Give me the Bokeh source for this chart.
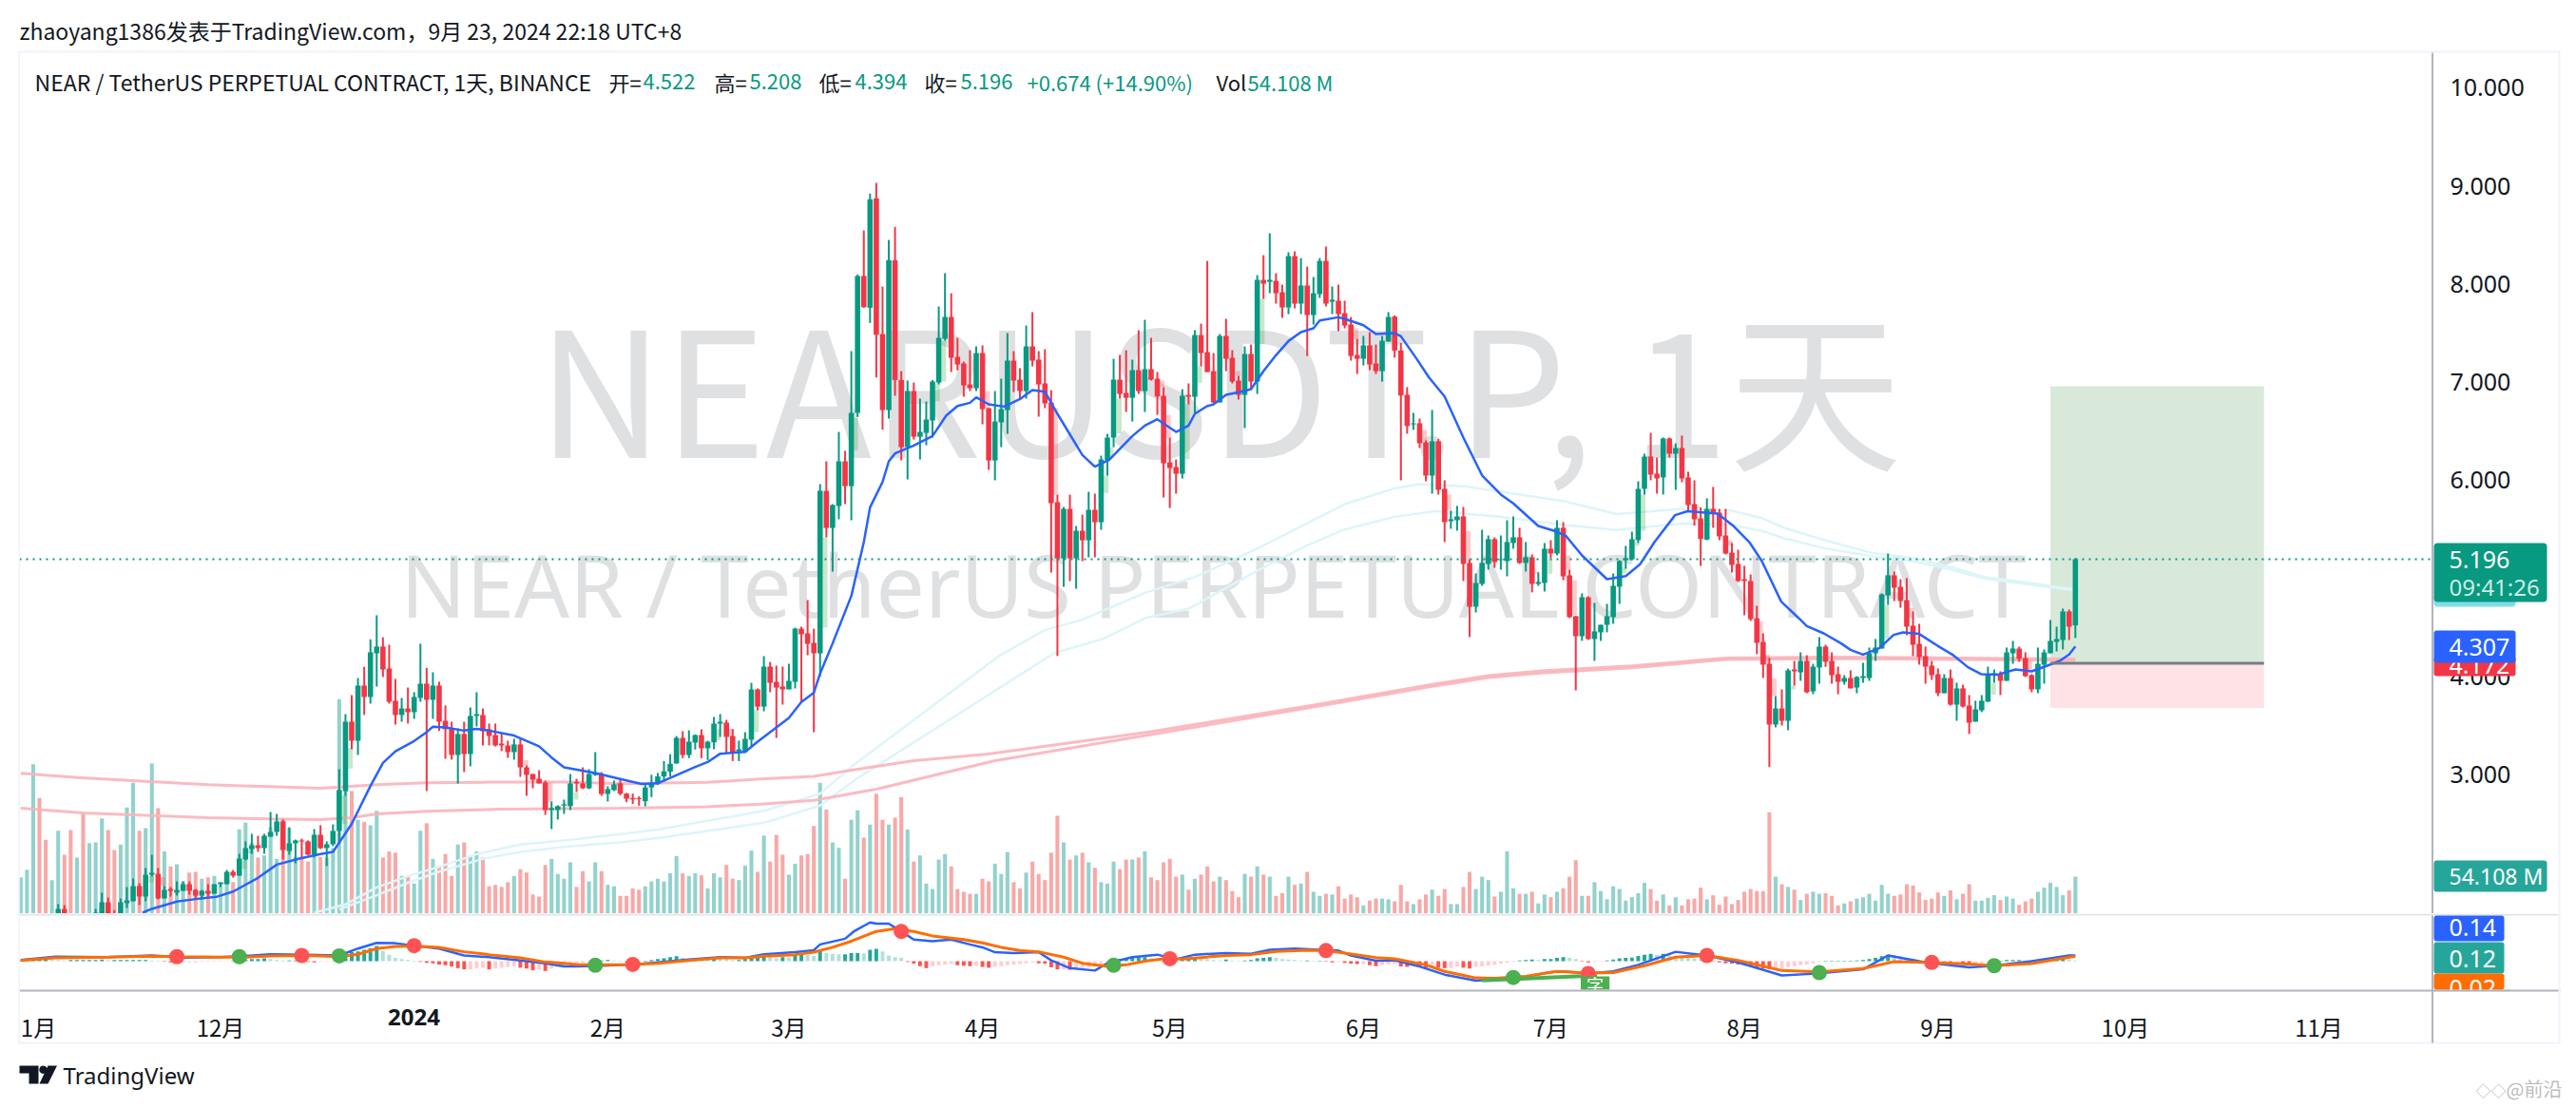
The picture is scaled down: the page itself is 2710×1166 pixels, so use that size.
import numpy as np
from bokeh.core.properties import value
from bokeh.embed import file_html
from bokeh.resources import INLINE
from bokeh.layouts import column
from bokeh.models import (ColumnDataSource, Range1d, FixedTicker, Label, BoxAnnotation, PolyAnnotation)
from bokeh.plotting import figure

# ---------------- chart values ----------------
opens = [
 1.45,1.48,1.50,1.55,1.48,1.46,1.55,1.634,1.56,1.52,
 1.55,1.52,1.56,1.58,1.702,1.589,1.59,1.692,1.711,1.866,
 1.76,1.982,1.992,1.74,1.837,1.798,1.818,1.886,1.827,1.769,
 1.818,1.789,1.886,1.886,2.011,1.973,2.137,2.244,2.282,2.253,
 2.369,2.418,2.525,2.224,2.302,2.331,2.321,2.186,2.389,2.253,
 2.292,2.428,2.834,3.541,3.347,3.909,3.793,4.238,4.306,4.083,
 3.754,3.609,3.676,3.638,3.783,3.928,3.764,3.909,3.55,3.473,
 3.202,3.415,3.212,3.599,3.609,3.464,3.405,3.318,3.299,3.231,
 3.309,3.076,3.008,2.96,2.921,2.641,2.641,2.686,2.68,2.928,
 2.912,2.863,2.999,3.008,2.805,2.844,2.913,2.808,2.763,2.763,
 2.731,2.871,2.913,2.983,3.032,3.116,3.376,3.202,3.328,3.405,
 3.27,3.331,3.521,3.531,3.395,3.24,3.234,3.357,3.87,3.695,
 4.102,3.947,3.899,3.87,3.947,4.489,4.441,4.344,4.238,5.893,
 5.515,5.738,6.193,5.941,6.687,8.081,7.758,8.871,7.49,6.716,
 8.242,7.022,6.338,6.909,6.444,6.483,6.609,6.996,7.442,7.664,
 7.258,7.19,6.977,6.938,7.296,6.735,6.202,6.59,6.715,7.219,
 7.025,6.909,7.364,7.229,6.987,6.793,5.777,5.205,5.709,5.205,
 5.486,5.389,5.699,5.573,6.202,6.435,7.025,6.89,6.841,7.122,
 6.909,7.132,7.035,6.861,6.183,6.135,6.067,6.87,6.851,7.48,
 7.306,7.112,6.793,7.471,7.248,7.016,6.87,7.287,7.006,8.042,
 8.022,8.032,7.916,7.761,8.284,7.8,7.984,7.684,7.897,8.235,
 7.819,7.829,7.703,7.587,7.277,7.238,7.374,7.19,7.112,7.413,
 7.668,7.322,6.871,6.57,6.581,6.387,6.048,6.397,5.913,5.584,
 5.593,5.632,5.158,4.712,4.945,5.148,5.4,5.187,5.177,5.361,
 5.419,5.158,5.216,4.945,4.954,5.303,5.254,5.516,5.032,4.616,
 4.412,4.809,4.383,4.451,4.528,4.606,4.916,5.187,5.196,5.39,
 5.913,6.242,6.068,6.029,6.426,6.271,6.329,6.029,5.758,5.612,
 5.396,5.709,5.671,5.438,5.264,5.148,4.993,4.974,4.596,4.354,
 4.131,3.512,3.676,3.55,4.073,4.044,4.16,3.85,4.093,4.306,
 4.16,4.025,3.947,3.986,3.889,3.986,3.986,4.238,4.286,4.828,
 5.032,4.915,4.78,4.519,4.335,4.209,4.112,4.025,3.831,3.986,
 3.715,3.88,3.705,3.541,3.657,3.744,4.025,4.025,3.957,4.238,
 4.286,4.189,4.015,3.87,4.122,4.238,4.354,4.373,4.664,4.522]
highs = [
 1.5,1.52,1.56,1.57,1.5,1.52,1.682,1.672,1.58,1.56,
 1.58,1.56,1.634,1.798,1.75,1.621,1.74,1.856,1.944,1.895,
 2.05,2.186,2.05,1.866,1.856,1.915,1.915,1.915,1.837,1.827,
 1.886,1.886,1.905,2.031,2.031,2.195,2.321,2.399,2.379,2.399,
 2.621,2.602,2.544,2.466,2.34,2.35,2.331,2.447,2.486,2.321,
 2.495,3.057,3.618,3.812,3.986,4.1,4.38,4.625,4.4,4.325,
 3.977,3.783,3.889,3.841,4.335,4.09,4.044,3.948,3.706,3.541,
 3.473,3.541,3.686,3.841,3.676,3.522,3.522,3.425,3.347,3.367,
 3.376,3.096,3.008,3.047,2.941,2.728,2.689,2.747,3.008,2.96,
 3.076,3.057,3.231,3.028,2.883,2.941,2.948,2.815,2.808,2.78,
 2.913,3.0,3.018,3.14,3.21,3.395,3.444,3.453,3.411,3.463,
 3.347,3.589,3.618,3.56,3.466,3.347,3.434,3.937,3.879,4.208,
 4.15,4.112,4.102,4.131,4.499,4.509,4.78,4.489,5.961,6.193,
 5.757,6.493,6.3,7.316,8.097,8.545,8.92,9.03,7.974,8.449,
 8.581,7.113,7.016,6.996,6.832,6.803,7.02,7.771,8.11,7.906,
 7.451,7.209,7.325,7.364,7.374,6.735,6.909,7.035,7.5,7.316,
 7.141,7.577,7.713,7.316,7.335,6.919,5.854,5.728,5.854,5.534,
 5.65,5.883,5.864,6.251,6.473,7.238,7.277,7.325,7.229,7.529,
 7.635,7.451,7.103,6.948,6.435,6.212,6.928,6.987,7.529,7.596,
 8.235,7.296,7.49,7.645,7.325,7.064,7.364,7.383,8.09,8.293,
 8.516,8.11,7.993,8.323,8.332,8.264,8.177,8.071,8.264,8.381,
 7.974,7.993,7.829,7.664,7.441,7.471,7.509,7.383,7.471,7.713,
 7.68,7.4,6.95,6.687,6.629,6.407,6.716,6.42,6.0,5.69,
 5.739,5.729,5.196,5.051,5.496,5.438,5.419,5.438,5.593,5.632,
 5.516,5.371,5.245,5.061,5.361,5.39,5.593,5.574,5.09,4.616,
 4.848,4.819,4.751,4.528,4.741,5.051,5.187,5.332,5.477,5.99,
 6.271,6.484,6.232,6.436,6.436,6.377,6.455,6.087,6.0,5.725,
 5.816,5.932,5.709,5.709,5.361,5.293,5.128,5.041,4.722,4.441,
 4.19,3.802,3.87,4.083,4.16,4.247,4.218,4.131,4.402,4.325,
 4.247,4.102,4.015,4.064,4.005,4.141,4.296,4.383,4.848,5.254,
 5.07,4.993,5.003,4.664,4.538,4.306,4.16,4.083,4.025,4.073,
 3.938,3.918,3.812,3.754,3.812,4.102,4.073,4.054,4.296,4.364,
 4.306,4.247,4.025,4.296,4.277,4.577,4.509,4.693,4.683,5.208]
lows = [
 1.42,1.45,1.48,1.46,1.44,1.45,1.54,1.53,1.5,1.5,
 1.5,1.5,1.53,1.56,1.55,1.54,1.56,1.643,1.711,1.672,
 1.711,1.963,1.731,1.74,1.76,1.769,1.818,1.779,1.731,1.731,
 1.756,1.789,1.856,1.886,1.953,1.973,2.128,2.195,2.215,2.195,
 2.369,2.379,2.137,2.186,2.099,2.157,2.182,2.157,2.244,2.07,
 2.273,2.318,2.786,3.26,3.202,3.609,3.725,3.899,3.996,3.725,
 3.512,3.541,3.522,3.57,3.744,2.834,3.57,3.447,3.163,3.154,
 2.912,3.028,3.086,3.493,3.299,3.299,3.289,3.241,3.173,3.154,
 2.979,2.786,2.863,2.912,2.592,2.447,2.544,2.602,2.641,2.825,
 2.854,2.854,2.989,2.786,2.728,2.834,2.791,2.721,2.703,2.686,
 2.679,2.773,2.896,2.93,2.983,3.112,3.17,3.17,3.257,3.17,
 3.15,3.26,3.386,3.208,3.14,3.14,3.224,3.289,3.657,3.647,
 3.841,3.376,3.715,3.87,3.879,3.744,4.218,3.434,4.005,5.419,
 5.07,5.603,5.757,5.593,6.645,7.758,7.603,7.048,6.516,6.629,
 6.861,6.203,6.009,6.415,6.212,6.357,6.435,6.977,7.422,7.103,
 7.122,6.851,6.909,6.909,6.57,6.106,6.0,6.338,6.473,6.899,
 6.828,6.832,7.161,6.648,6.735,5.06,4.21,4.915,4.973,4.895,
 5.176,5.215,5.215,5.496,6.047,6.338,6.832,6.696,6.599,6.88,
 6.696,7.016,6.667,5.825,5.718,5.864,6.018,6.773,6.677,7.161,
 7.103,6.773,6.793,7.112,6.987,6.822,6.532,6.919,6.88,7.848,
 7.906,7.8,7.655,7.693,7.751,7.693,7.267,7.587,7.858,7.771,
 7.693,7.519,7.548,7.219,7.083,7.171,7.122,7.083,7.006,7.413,
 7.25,6.0,6.474,6.513,6.329,5.99,5.864,5.855,5.371,5.506,
 5.487,4.974,4.403,4.654,4.925,5.09,5.109,5.09,5.022,5.303,
 5.148,5.071,4.858,4.925,4.867,5.206,5.235,4.983,4.596,3.86,
 4.364,4.374,4.161,4.364,4.451,4.538,4.741,5.1,5.187,5.361,
 5.855,6.0,5.864,5.855,6.232,5.903,5.981,5.69,5.538,5.128,
 5.39,5.516,5.39,5.245,5.061,4.964,4.625,4.567,4.228,3.986,
 3.079,3.483,3.502,3.454,3.909,3.957,3.831,3.821,3.928,4.099,
 3.928,3.821,3.918,3.88,3.831,3.938,3.957,4.16,4.286,4.731,
 4.77,4.702,4.422,4.209,4.122,3.928,3.967,3.802,3.831,3.705,
 3.55,3.686,3.415,3.541,3.638,3.744,3.938,3.812,3.957,4.131,
 4.151,3.996,3.841,3.831,3.928,4.238,4.257,4.277,4.373,4.394]
closes = [
 1.48,1.5,1.55,1.48,1.46,1.5,1.634,1.563,1.52,1.55,
 1.52,1.55,1.595,1.702,1.58,1.57,1.702,1.721,1.866,1.76,
 1.982,2.002,1.74,1.827,1.818,1.827,1.886,1.818,1.769,1.818,
 1.789,1.886,1.905,2.011,1.973,2.147,2.253,2.282,2.253,2.379,
 2.418,2.525,2.234,2.302,2.331,2.321,2.186,2.389,2.253,2.292,
 2.428,2.844,3.541,3.347,3.909,3.793,4.248,4.306,4.073,3.744,
 3.609,3.676,3.638,3.793,3.928,3.764,3.909,3.541,3.464,3.202,
 3.415,3.212,3.599,3.618,3.444,3.396,3.299,3.299,3.231,3.309,
 3.076,2.999,2.95,2.912,2.641,2.66,2.68,2.699,2.912,2.912,
 2.863,3.008,3.018,2.805,2.854,2.902,2.808,2.756,2.749,2.752,
 2.871,2.913,2.983,3.035,3.112,3.376,3.202,3.337,3.405,3.27,
 3.337,3.521,3.54,3.386,3.234,3.26,3.366,3.87,3.695,4.102,
 3.937,3.889,3.87,3.957,4.489,4.431,4.334,4.238,5.893,5.515,
 5.748,6.193,5.941,6.687,8.081,7.764,8.862,7.484,6.716,8.242,
 7.022,6.338,6.909,6.444,6.493,6.619,7.006,7.451,7.664,7.248,
 7.18,6.967,6.938,7.296,6.725,6.202,6.599,6.725,7.219,7.016,
 6.909,7.364,7.219,6.977,6.783,5.767,5.205,5.709,5.205,5.486,
 5.389,5.699,5.573,6.212,6.435,7.025,6.88,6.841,7.122,6.909,
 7.132,7.025,6.854,6.173,6.125,6.067,6.861,6.851,7.48,7.296,
 7.103,6.793,7.471,7.238,7.006,6.87,7.287,7.006,8.042,8.003,
 8.042,7.906,7.761,8.284,7.8,7.984,7.684,7.906,8.235,7.8,
 7.839,7.693,7.577,7.267,7.238,7.374,7.18,7.112,7.422,7.664,
 7.322,6.864,6.554,6.58,6.377,6.048,6.397,5.903,5.574,5.603,
 5.632,5.148,4.712,4.954,5.158,5.4,5.167,5.196,5.371,5.419,
 5.158,5.216,4.945,4.964,5.303,5.254,5.516,5.022,4.606,4.412,
 4.809,4.383,4.461,4.528,4.616,4.925,5.177,5.206,5.4,5.913,
 6.242,6.058,6.019,6.426,6.271,6.329,6.019,5.748,5.603,5.403,
 5.709,5.661,5.429,5.254,5.138,4.974,4.974,4.586,4.344,4.122,
 3.512,3.676,3.55,4.064,4.054,4.16,3.841,4.102,4.306,4.151,
 4.015,3.947,3.986,3.88,3.996,4.005,4.238,4.296,4.838,5.032,
 4.906,4.77,4.509,4.325,4.199,4.102,4.015,3.831,3.986,3.715,
 3.88,3.696,3.531,3.667,3.754,4.025,4.035,3.957,4.247,4.286,
 4.18,4.005,3.87,4.131,4.247,4.364,4.383,4.664,4.509,5.196]
volumes = [
 53,64,218,169,108,49,121,86,122,82,
 147,103,104,139,122,93,101,155,191,121,
 125,219,154,91,69,72,47,60,61,51,
 53,55,42,46,46,123,133,103,82,85,
 126,80,139,125,83,83,76,83,83,82,
 96,313,240,179,137,134,129,150,82,91,
 89,55,54,44,121,132,80,69,87,55,
 101,104,85,91,82,40,42,39,46,55,
 65,60,28,25,71,80,58,51,75,39,
 62,47,75,62,42,40,26,26,37,35,
 40,47,51,47,59,84,59,55,59,56,
 37,59,53,71,51,49,70,92,61,114,
 76,115,86,57,73,85,87,128,191,152,
 104,96,51,137,151,111,130,175,137,130,
 140,170,123,76,85,44,36,79,87,69,
 36,32,29,29,51,47,73,58,90,46,
 37,60,76,58,49,89,143,104,79,85,
 89,75,67,46,44,76,65,79,79,82,
 91,53,49,75,80,54,57,35,51,57,
 69,47,54,49,33,24,58,54,69,57,
 54,26,30,54,42,44,61,32,26,29,
 28,40,22,28,24,12,19,22,22,21,
 18,42,18,14,21,28,35,26,36,14,
 14,39,61,36,54,49,25,32,91,37,
 29,29,32,15,28,24,32,37,54,78,
 26,26,46,33,21,40,36,19,24,30,
 45,36,19,28,12,24,12,21,22,38,
 21,27,13,25,14,20,32,36,33,33,
 148,54,43,39,35,20,29,32,29,30,
 26,12,15,18,22,24,29,19,42,29,
 26,28,43,41,31,20,22,31,26,34,
 21,29,43,19,19,23,27,20,25,22,
 13,18,22,32,38,45,39,27,34,54.108]
macd_hist = [
 .02,.03,.04,.05,.05,.04,.03,.02,.03,.03,
 .03,.03,.03,.04,.03,.03,.03,.03,.03,.03,
 .03,.02,.01,-.01,-.03,-.03,-.03,-.03,-.03,-.02,
 -.02,-.02,-.01,-.01,.01,.03,.04,.05,.05,.07,
 .05,.03,.02,.02,.02,.01,-.02,-.03,-.02,-.02,
 -.01,.05,.2,.22,.24,.28,.32,.37,.25,.16,
 .08,.05,.03,.01,-.02,-.04,-.05,-.08,-.1,-.13,
 -.17,-.2,-.2,-.18,-.16,-.2,-.18,-.16,-.14,-.12,
 -.16,-.18,-.22,-.2,-.24,-.18,-.14,-.1,-.07,-.05,
 -.04,-.03,-.02,.02,.03,.02,.01,-.02,-.03,-.02,
 .01,.03,.05,.07,.1,.12,.09,.07,.06,.05,
 .04,.07,.06,.05,.03,.03,.05,.1,.1,.13,
 .1,.07,.1,.09,.16,.18,.15,.13,.25,.2,
 .18,.17,.17,.2,.2,.19,.28,.3,.24,.14,
 .1,.08,-.02,-.06,-.12,-.17,-.12,-.1,-.08,-.07,
 -.1,-.11,-.12,-.11,-.14,-.16,-.14,-.12,-.1,-.09,
 -.07,-.05,-.03,-.05,-.06,-.15,-.2,-.2,-.21,-.2,
 -.16,-.15,-.13,-.1,-.05,.04,.06,.08,.1,.1,
 .1,.07,.03,-.02,.01,.01,.04,.05,.08,.06,
 .05,.03,.02,.04,.02,.01,.02,.03,.07,.08,
 .1,.08,.05,.04,.03,.02,.02,.01,.01,-.01,
 -.03,-.02,-.04,-.06,-.07,-.06,-.1,-.12,-.1,-.08,
 -.07,-.13,-.14,-.11,-.14,-.16,-.15,-.16,-.17,-.17,
 -.13,-.16,-.18,-.14,-.13,-.11,-.09,-.06,-.04,-.02,
 .02,.03,.04,.03,.05,.05,.08,.1,.08,.05,
 -.01,-.03,-.02,-.01,.02,.04,.07,.08,.09,.13,
 .16,.18,.16,.18,.14,.12,.1,.08,.07,.05,
 .03,-.01,-.03,-.05,-.06,-.08,-.1,-.12,-.15,-.18,
 -.2,-.2,-.18,-.15,-.12,-.1,-.08,-.05,-.02,.01,
 .01,.01,.01,.01,.02,.03,.05,.08,.12,.16,
 .15,.12,.08,.05,.02,.01,-.01,-.03,-.05,-.06,
 -.06,-.07,-.08,-.06,-.05,-.02,-.01,.01,.03,.03,
 .03,.02,.02,.03,.04,.04,.05,.05,.04,.02]

ma_idx = [19.5,21,25,28,31.3,34,38,41,44.5,48,50,53,56,58,60,63,65,66,68,71,73,75,79,83,85,87,92,95.5,99.4,102,108,110,112,116,118,121,123,125,127,128,130,133,135,136,138,139,140,143,146,148.2,150,152,153,155,157.5,160,162,164,166,170,172,174.3,178,180,182,185,187,188,190,191,193,195.4,197,199,201,203,205,207,208,211,212,215,217,220,221,223.5,225.5,228,231,234,237,239,243,245.6,247.4,250,254,257,259.3,261.6,264.9,266.9,271.7,274.3,276.8,278.8,281.9,284.7,286,288.7,291.5,293,295,297.6,299.9,301.4,304,307,309.3,311.8,313.9,316.6,319.4,322,324.5,326.5,328,329]
ma_val = [1.595,1.634,1.708,1.734,1.756,1.81,1.95,2.085,2.144,2.192,2.215,2.5,2.886,3.12,3.24,3.344,3.435,3.49,3.483,3.45,3.467,3.45,3.4,3.29,3.176,3.075,3.018,2.965,2.906,2.913,3.08,3.13,3.215,3.234,3.337,3.482,3.579,3.741,3.837,4.031,4.338,4.822,5.37,5.725,5.983,6.193,6.274,6.354,6.451,6.66,6.757,6.79,6.845,6.774,6.751,6.828,6.919,6.903,6.677,6.257,6.138,6.209,6.451,6.557,6.622,6.493,6.557,6.677,6.757,6.773,6.87,6.903,6.928,7.112,7.274,7.419,7.509,7.548,7.629,7.661,7.645,7.58,7.49,7.5,7.467,7.24,7.048,6.854,6.435,6.05,5.855,5.765,5.535,5.484,5.435,5.235,4.993,5.025,5.145,5.37,5.645,5.685,5.661,5.532,5.37,5.177,4.764,4.596,4.515,4.441,4.338,4.273,4.225,4.289,4.425,4.451,4.435,4.312,4.225,4.096,4.025,4.021,4.073,4.054,4.112,4.16,4.225,4.307]

pink_a_idx = [0,9,20,30,40,48,57,65,75,88,96,110,118.5,127,133,143,154.6,181,207,226,235,244,258,273,290,329]
pink_a_val = [3.015,2.973,2.934,2.899,2.879,2.863,2.899,2.918,2.925,2.925,2.908,2.924,2.957,2.983,3.047,3.144,3.21,3.44,3.71,3.92,4.01,4.06,4.11,4.19,4.2,4.18]
pink_b_idx = [0,10,20,30,40,48,53,57,65,77,96,110,118.5,127,137,156,181,207,226,235,244,258,273,290,329]
pink_b_val = [2.66,2.612,2.586,2.563,2.55,2.544,2.563,2.602,2.628,2.65,2.66,2.675,2.702,2.74,2.854,3.144,3.41,3.69,3.9,3.99,4.04,4.09,4.175,4.185,4.165]

cyan_a_idx = [47,52,57,62,67,73,80,88,96,102,119,128,133,156.6,164,170,180,188,198,206,212,220,224,231.7,247,255.5,266,273.8,278.9,282.4,289,296.6,303,309.3,314.4,322,329]
cyan_a_val = [1.595,1.68,1.853,1.966,2.063,2.192,2.289,2.337,2.395,2.441,2.633,2.808,3.08,4.208,4.476,4.58,4.854,5.015,5.305,5.563,5.757,5.918,5.961,5.935,5.79,5.655,5.709,5.693,5.612,5.516,5.387,5.258,5.209,5.112,5.015,4.951,4.886]
cyan_b_idx = [51,57,62,67,74,80,88,96,102,119,128,134,165.5,173.4,180,187,198,206,212,220,226.6,236.7,247,255.5,266,273.8,278.9,282.4,289,296.6,303,309.3,314.4,322,329]
cyan_b_val = [1.627,1.773,1.9,2.014,2.143,2.215,2.273,2.311,2.354,2.511,2.686,2.966,4.24,4.386,4.595,4.692,5.079,5.337,5.499,5.628,5.687,5.629,5.548,5.493,5.558,5.548,5.483,5.409,5.306,5.225,5.177,5.086,4.999,4.935,4.88]

macd_idx = [0,5.5,14,21,26,32,36,40,46,51,54,57,60,63,67,71,75,80,84,87,89,93,98,102,107,112,116,119,124,127,128,132,133.4,136,137,139,141,143,146,149,152,154,156,159,163,165,168,172,174,178,182,185,188,193,197,200,204,208,211,213,217,220,224,228,233,236,241,245,247,251,255,259,265,270,275,282,288,295,299,305,312,316,322,328,329]
macd_val = [.03,.11,.1,.14,.09,.1,.13,.17,.16,.14,.31,.45,.44,.38,.31,.14,.1,.02,-.05,-.13,-.13,-.11,-.08,-.03,.04,.1,.08,.17,.22,.27,.41,.55,.73,.95,.92,.92,.73,.53,.49,.53,.41,.34,.22,.2,.22,.02,-.17,-.23,-.05,.1,.16,.05,.16,.2,.18,.28,.31,.28,.26,.14,.01,.02,-.13,-.33,-.48,-.44,-.38,-.27,-.25,-.3,-.25,-.09,.23,.14,-.03,-.35,-.3,-.2,.14,-.03,-.15,-.11,0,.14,.14]
signal_idx = [0,5.5,14,21,26,32,36,40,46,51,54,57,60,63,67,71,75,80,84,87,89,93,98,102,107,112,116,119,124,127,130,133,137,140,143,146,151,154,157,160,163,167,170,174,177,180,183,186,189,193,197,201,206,209,212,217,220,225,228,233,236,241,246,251,255,260,265,270,275,282,288,295,300,305,312,316,322,329]
signal_val = [.02,.08,.1,.12,.11,.1,.1,.13,.14,.11,.17,.31,.36,.37,.34,.23,.16,.08,-.02,-.05,-.08,-.09,-.08,-.05,.02,.08,.08,.12,.16,.22,.34,.49,.73,.8,.73,.62,.53,.45,.34,.26,.23,.1,-.05,-.13,-.09,0,.06,.05,.09,.14,.16,.24,.27,.26,.2,.09,.06,-.09,-.25,-.41,-.42,-.37,-.25,-.29,-.28,-.11,.1,.14,.02,-.23,-.26,-.18,-.01,-.03,-.07,-.11,-.06,.12]

cross_up_idx = [35,51,92,175,239,288,316]
cross_up_val = [.11,.13,-.1,-.1,-.4,-.28,-.11]
cross_dn_idx = [25,45,63,98,141,184,209,251,270,306]
cross_dn_val = [.11,.14,.38,-.08,.73,.06,.26,-.3,.14,-.03]

ghost_up_idx = [51.8,52.8,128.8,133.7,117.8,111.7,88.9,147.8,146.8,174.6,175.9,173.8,186.8,188.8,198.8,244.9,256.8,258.8,259.8,283.8,298.8,315.9,20.9,35.8,36.8]
ghost_up_hi = [2.789,3.273,5.419,6.635,3.66,3.466,2.821,7.419,6.983,6.338,6.832,6.047,6.774,7.161,7.848,5.193,5.113,5.371,5.855,3.909,4.731,3.934,1.966,2.128,2.24]
ghost_up_lo = [2.499,3.063,4.499,6.306,3.434,3.353,2.747,7.006,6.806,6.225,6.477,5.87,6.215,6.993,7.387,5.048,5.058,5.332,5.484,3.87,4.386,3.815,1.902,2.04,2.2]
ghost_dn_idx = [113.7,84.8,80.9,154.8,165.7,182.8,183.8,194.9,213.8,224.8,228.7,231.8,242.8,247.8,248.8,273.8,278.6,279.7,280.8,321.7,302.8,22.8]
ghost_dn_hi = [3.466,2.918,3.15,6.909,6.735,7.016,6.667,7.112,7.548,6.513,5.855,5.484,5.07,5.235,4.983,5.387,4.564,4.225,3.983,4.16,4.702,1.957]
ghost_dn_lo = [3.386,2.725,3.09,6.735,5.854,6.951,6.428,7.064,7.441,6.407,5.693,5.161,5.048,5.09,4.628,5.338,4.354,4.128,3.805,4.047,4.596,1.869]

pos_start, pos_end = 325, 359.2
target_price, entry_price, stop_price = 6.958, 4.135, 3.68
last_price = 5.196

price_ticks = [3, 4, 5, 6, 7, 8, 9, 10]
month_ticks = [2.85, 32, 63, 94, 123, 154, 184, 215, 245, 276, 307, 337, 368]
month_labels = ["1月", "12月", " ", "2月", "3月", "4月", "5月", "6月", "7月", "8月", "9月", "10月", "11月"]

# ---------------- style + layout helpers ----------------
GREEN, RED = "#089981", "#F23645"
INK = "#131722"
CJK = "Noto Sans CJK SC"
LAT = "Noto Sans"
W = 2704

n = len(closes)
idx = np.arange(n)
o, h, l, c = map(np.array, (opens, highs, lows, closes))
up = c >= o
colors = [GREEN if u else RED for u in up]

# pixel-to-data mapping of the panes: every frame fills its whole figure
def X(px):  return (px - 21.3) / 6.57
def Y(py):  return 5.196 - (py - 588) / 103.3
def M(py):  return (1011 - py) * 0.0233

xr = Range1d(X(0), X(W))
p = figure(width=W, height=961, x_range=xr, y_range=Range1d(Y(961), Y(0)),
           output_backend="svg", toolbar_location=None, y_axis_location="right",
           min_border=0, outline_line_color=None, background_fill_color="white", border_fill_color="white")
p.xaxis.visible = False
p.xgrid.visible = False
p.ygrid.visible = False
ya = p.yaxis[0]
ya.fixed_location = X(2558)
ya.ticker = FixedTicker(ticks=price_ticks)
ya.major_label_overrides = {t: f"{t:.3f}" for t in price_ticks}
ya.major_label_text_font = LAT
ya.major_label_text_font_size = "25px"
ya.major_label_text_color = INK
ya.axis_line_color = None
ya.major_tick_line_color = None
ya.minor_tick_line_color = None
ya.major_label_standoff = 13

q = None
# annotations are placed in canvas pixels of their own figure
def T(fig, x, y, text, size, color=INK, font=CJK, style="normal", align="left", base="middle", level="annotation"):
    y0 = 961 if fig is q else 0
    fig.add_layout(Label(x=x, y=y - y0, x_units="canvas", y_units="canvas", text=text, text_font=font,
                         text_font_size=f"{size}px", text_color=color, text_font_style=style,
                         text_align=align, text_baseline=base, level=level))

def B(fig, x0, x1, y0, y1, color, radius=0):
    d = 961 if fig is q else 0
    fig.add_layout(BoxAnnotation(left=x0, right=x1, top=y0 - d, bottom=y1 - d,
                                 left_units="canvas", right_units="canvas", top_units="canvas", bottom_units="canvas",
                                 fill_color=color, fill_alpha=1, line_color=None, border_radius=radius, level="annotation"))

# watermarks
T(p, 1283, 402, "NEARUSDT.P, 1天", 183, "#DFE0E2", level="underlay", align="center")
T(p, 1276, 614, "NEAR / TetherUS PERPETUAL CONTRACT", 91, "#DFE0E2", font=LAT, level="underlay", align="center")

# position tool
p.quad(left=[pos_start], right=[pos_end], top=[target_price], bottom=[entry_price],
       fill_color="#4C9A55", fill_alpha=0.22, line_color=None)
p.quad(left=[pos_start], right=[pos_end], top=[entry_price], bottom=[stop_price],
       fill_color="#F23645", fill_alpha=0.14, line_color=None)

# volume
p.extra_y_ranges["vol"] = Range1d(0, 961 * 1.387)
vcolors = ["#26A69A" if u else "#EF5350" for u in up]
p.vbar(x=idx, top=volumes, bottom=0, width=0.62, fill_color=vcolors, fill_alpha=0.5, line_color=None, y_range_name="vol")

# long moving averages
for xs, ys in ((cyan_a_idx, cyan_a_val), (cyan_b_idx, cyan_b_val)):
    p.line(xs, ys, line_color="#DDF5F9", line_width=2.5)
for xs, ys in ((pink_a_idx, pink_a_val), (pink_b_idx, pink_b_val)):
    p.line(xs, ys, line_color="#F9B4BA", line_width=3, line_alpha=0.9)

# pale blocks next to large candles
p.vbar(x=ghost_up_idx, top=ghost_up_hi, bottom=ghost_up_lo, width=0.75, fill_color="#4CAF50", fill_alpha=0.3, line_color=None)
p.vbar(x=ghost_dn_idx, top=ghost_dn_hi, bottom=ghost_dn_lo, width=0.75, fill_color="#FF5252", fill_alpha=0.3, line_color=None)

# candles
src = ColumnDataSource(dict(x=idx, o=o, h=h, l=l, c=c, top=np.maximum(o, c), bot=np.minimum(o, c), col=colors))
p.segment("x", "h", "x", "l", source=src, line_color="col", line_width=2)
p.vbar("x", 0.85, "bot", "top", source=src, fill_color="col", line_color=None)

# fast MA
p.line(ma_idx, ma_val, line_color="#2962FF", line_width=2.5)

# entry line and last-price line
p.line([pos_start, pos_end], [entry_price, entry_price], line_color="#787B86", line_width=3)
p.line([X(20), X(2558)], [last_price, last_price], line_color=GREEN, line_width=2, line_dash=[2, 5])

# frame lines
B(p, 19, 2693, 53, 55, "#F0F3FA")
B(p, 19, 20.5, 53, 961, "#F0F3FA")
B(p, 2691, 2693, 53, 961, "#F0F3FA")
B(p, 2557.5, 2559.5, 55, 961, "#B2B5BE")

# page header and legend
T(p, 20, 31, "zhaoyang1386发表于TradingView.com，9月 23, 2024 22:18 UTC+8", 23)
T(p, 36, 85, "NEAR / TetherUS PERPETUAL CONTRACT, 1天, BINANCE", 23)
for px, s, col in ((640, "开=", INK), (676, "4.522", GREEN), (751, "高=", INK), (788, "5.208", GREEN),
                   (861, "低=", INK), (899, "4.394", GREEN), (972, "收=", INK), (1010, "5.196", GREEN),
                   (1080, "+0.674 (+14.90%)", GREEN), (1279, "Vol", INK), (1312, "54.108 M", GREEN)):
    T(p, px, 85, s, 22, col)

# price tags
B(p, 2560, 2646, 625, 638, "#80DEEA", 4)
B(p, 2560, 2679, 571, 633, GREEN, 4)
T(p, 2576, 588, "5.196", 25, "white", font=LAT)
T(p, 2576, 617, "09:41:26", 24, "#CDEBE5", font=LAT)
B(p, 2560, 2646, 690, 711, "#F23645", 3)
T(p, 2576, 699, "4.172", 25, "white", font=LAT)
B(p, 2560, 2646, 663, 697, "#2962FF", 3)
T(p, 2576, 680, "4.307", 25, "white", font=LAT)
B(p, 2560, 2679, 905, 938, "#26A69A", 3)
T(p, 2576, 921, "54.108 M", 23, "white", font=LAT)

# ---------------- MACD pane + time axis ----------------
q = figure(width=W, height=197, x_range=xr, y_range=Range1d(M(1158), M(961)),
           output_backend="svg", toolbar_location=None,
           min_border=0, outline_line_color=None, background_fill_color="white", border_fill_color="white")
q.yaxis.visible = False
q.xgrid.visible = False
q.ygrid.visible = False
xa = q.xaxis[0]
xa.fixed_location = M(1042)
xa.ticker = FixedTicker(ticks=month_ticks)
xa.major_label_overrides = dict(zip(month_ticks, month_labels))
xa.major_label_text_font = CJK
xa.major_label_text_font_size = "24px"
xa.major_label_text_color = INK
xa.axis_line_color = None
xa.major_tick_line_color = None
xa.minor_tick_line_color = None
xa.major_label_standoff = 14

hist = np.array(macd_hist)
prev = np.r_[hist[0], hist[:-1]]
hcol = [("#26A69A" if v >= pv else "#B2DFDB") if v >= 0 else ("#FFCDD2" if v >= pv else "#FF5252")
        for v, pv in zip(hist, prev)]
q.vbar(x=idx, top=hist, bottom=0, width=0.6, fill_color=hcol, line_color=None)
q.line(macd_idx, macd_val, line_color="#2962FF", line_width=2.5)
q.line(signal_idx, signal_val, line_color="#FF6D00", line_width=3)
q.line([234, 252.4], [-.47, -.35], line_color="#4CAF50", line_width=4)
q.scatter(cross_up_idx, cross_up_val, size=16, marker="circle", fill_color="#4CAF50", line_color=None)
q.scatter(cross_dn_idx, cross_dn_val, size=16, marker="circle", fill_color="#FF5252", line_color=None)
q.quad(left=[249.8], right=[254.4], top=[-.373], bottom=[M(1041)], fill_color="#4CAF50", line_color=None)
q.text([252.1], [-.56], text=["字"], text_color="white", text_font=value(CJK), text_font_size="18px",
       text_align="center", text_baseline="middle")

B(q, 1640, 1705, 1043, 1052, "white")
B(q, 19, 2693, 961, 963, "#E0E3EB")
B(q, 19, 2693, 1041, 1043, "#B2B5BE")
B(q, 19, 2693, 1096, 1098, "#F0F3FA")
B(q, 19, 20.5, 961, 1098, "#F0F3FA")
B(q, 2691, 2693, 961, 1098, "#F0F3FA")
B(q, 2557.5, 2559.5, 963, 1097, "#B2B5BE")

T(q, 435, 1070, "2024", 24, INK, font=LAT, style="bold", align="center")

B(q, 2560, 2634, 963, 990, "#2962FF", 3)
T(q, 2576, 975, "0.14", 25, "white", font=LAT)
B(q, 2560, 2634, 991, 1024, "#26A69A", 3)
T(q, 2576, 1008, "0.12", 25, "white", font=LAT)
B(q, 2560, 2634, 1024, 1041, "#FF6D00", 3)
T(q, 2576, 1039, "0.02", 25, "white", font=LAT)
B(q, 2560, 2640, 1043, 1062, "white")
B(q, 2560, 2640, 1041, 1043, "#B2B5BE")

# TradingView mark
for xs, ys in (([20, 40, 40, 30, 30, 20], [1121, 1121, 1140, 1140, 1129, 1129]),
               ([50, 59.5, 50, 41], [1121, 1121, 1140, 1140])):
    q.add_layout(PolyAnnotation(xs=xs, ys=[v - 961 for v in ys], xs_units="canvas", ys_units="canvas",
                                fill_color=INK, fill_alpha=1, line_color=None))
ang = np.linspace(0, 2 * np.pi, 20)
q.add_layout(PolyAnnotation(xs=list(45 + 4.2 * np.cos(ang)), ys=list(1125.2 - 961 + 4.2 * np.sin(ang)),
                            xs_units="canvas", ys_units="canvas", fill_color=INK, fill_alpha=1, line_color=None))
T(q, 66, 1131, "TradingView", 24, INK, font=LAT)
T(q, 2604, 1146, "◇◇", 16, "#BDBDBD")
T(q, 2636, 1145, "@前沿", 20, "#BDBDBD")

layout = column(p, q, spacing=0)
open("out.html", "w").write(file_html(layout, INLINE))
